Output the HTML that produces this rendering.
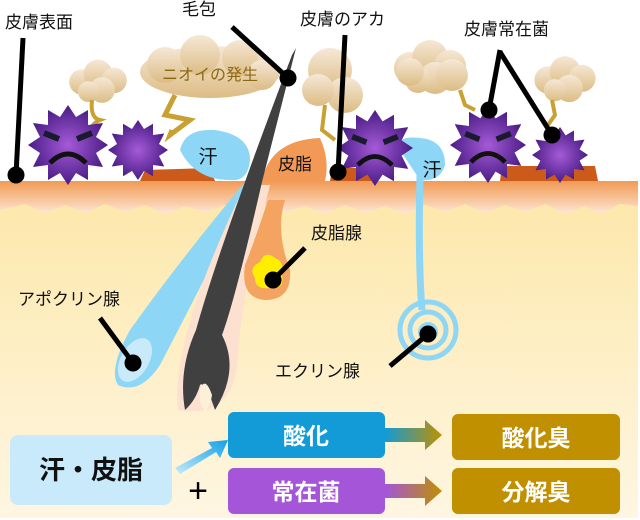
<!DOCTYPE html>
<html><head><meta charset="utf-8"><style>
html,body{margin:0;padding:0;background:#fff}
svg{display:block}
text{font-family:"Liberation Sans","Noto Sans CJK JP",sans-serif}
</style></head><body>
<svg width="640" height="520" viewBox="0 0 640 520" xmlns="http://www.w3.org/2000/svg">
<defs>
<linearGradient id="skin" x1="0" y1="0" x2="0" y2="1">
<stop offset="0" stop-color="#fde7a8"/><stop offset="1" stop-color="#fef6e2"/></linearGradient>
<linearGradient id="epi" x1="0" y1="0" x2="0" y2="1">
<stop offset="0" stop-color="#f29a55"/><stop offset="0.6" stop-color="#f8c8a0"/><stop offset="1" stop-color="#fde8dc"/></linearGradient>
<radialGradient id="bac" cx="0.5" cy="0.5" r="0.5">
<stop offset="0" stop-color="#a55ad8"/><stop offset="1" stop-color="#4a1d85"/></radialGradient>
<linearGradient id="cloud" x1="0" y1="0" x2="0" y2="1">
<stop offset="0" stop-color="#f6e8d6"/><stop offset="1" stop-color="#dcbc84"/></linearGradient>
<linearGradient id="ar1" x1="0" y1="0" x2="1" y2="0">
<stop offset="0" stop-color="#129bd6"/><stop offset="1" stop-color="#c09000"/></linearGradient>
<linearGradient id="ar2" x1="0" y1="0" x2="1" y2="0">
<stop offset="0" stop-color="#a455d8"/><stop offset="1" stop-color="#c09000"/></linearGradient>
<linearGradient id="ar3" x1="0" y1="1" x2="1" y2="0">
<stop offset="0" stop-color="#c8eafa"/><stop offset="1" stop-color="#10a0e8"/></linearGradient>
<g id="spk">
<polygon points="0,-40 8,-28 20,-35 20,-20 35,-22 28,-8 40,0 28,8 35,22 20,20 20,35 8,28 0,40 -8,28 -20,35 -20,20 -35,22 -28,8 -40,0 -28,-8 -35,-22 -20,-20 -20,-35 -8,-28" fill="url(#bac)"/>
</g>
<g id="face">
<use href="#spk"/>
<path d="M-24,-12 L-9,-6 M24,-12 L9,-6" stroke="#1b1b2e" stroke-width="6"/>
<path d="M-18,18 Q0,0 18,18" stroke="#111" stroke-width="5" fill="none"/>
</g>
<g id="cl">
<circle cx="-20" cy="0" r="16"/><circle cx="0" cy="-10" r="18"/><circle cx="20" cy="-2" r="16"/><circle cx="5" cy="10" r="16"/><circle cx="-12" cy="12" r="13"/>
</g>
</defs>
<!-- skin -->
<rect x="0" y="181" width="638" height="337" fill="url(#skin)"/>
<path d="M0,181 L638,181 L638,206 L620,204 L600,214 L585,206 L565,214 L545,204 L525,212 L505,205 L485,213 L465,204 L445,212 L425,205 L405,214 L385,206 L365,213 L345,205 L325,214 L305,206 L285,212 L265,205 L245,214 L225,205 L205,212 L185,206 L165,214 L145,205 L125,212 L105,204 L85,213 L65,205 L45,213 L25,204 L0,210Z" fill="url(#epi)"/>
<!-- sebum patches -->
<path d="M140,181 L145,170 L210,168 L215,181Z" fill="#cc5a1a"/>
<path d="M330,181 L332,168 L370,168 L375,181Z" fill="#cc5a1a"/>
<path d="M500,181 L502,166 L595,166 L598,181Z" fill="#cc5a1a"/>
<path d="M262,181 Q270,140 320,138 Q330,160 325,181Z" fill="#f29a55"/>
<!-- apocrine -->
<path d="M245,182 L252,182 Q220,250 160,365 Q140,395 118,385 Q108,370 130,330 Q180,260 245,182Z" fill="#8dd6f5"/>
<ellipse cx="135" cy="360" rx="14" ry="24" transform="rotate(30 135 360)" fill="#c8eafa"/>
<!-- follicle sheath -->
<path d="M245,185 L270,185 Q240,300 238,360 Q232,420 178,410 Q170,340 245,185Z" fill="#fde1d0"/>
<!-- sebaceous gland -->
<path d="M268,200 L285,200 Q275,230 290,270 Q292,300 265,300 Q240,298 245,265 Q255,240 268,200Z" fill="#f4a360"/>
<path d="M260,262 Q265,250 275,258 Q285,262 282,275 Q285,290 270,288 Q255,290 255,278 Q248,268 260,262Z" fill="#ffee00"/>
<!-- hair -->
<path d="M296,48 L262,182 Q235,300 222,335 Q240,370 215,410 Q205,380 200,385 Q196,400 185,410 Q178,370 196,330 Q218,250 292,55Z" fill="#404040"/>
<path d="M200,390 Q205,375 212,395 Q210,408 205,410 Q198,405 200,390Z" fill="#fdf0d8"/>
<!-- eccrine -->
<path d="M420,175 Q418,260 422,310" stroke="#8dd6f5" stroke-width="7" fill="none"/>
<path d="M400,150 Q395,135 420,138 Q445,140 445,165 Q440,182 420,180 Z" fill="#8dd6f5"/>
<circle cx="428" cy="330" r="28" stroke="#8dd6f5" stroke-width="5" fill="none"/>
<circle cx="428" cy="330" r="18" stroke="#8dd6f5" stroke-width="5" fill="none"/>
<circle cx="428" cy="332" r="8" stroke="#8dd6f5" stroke-width="4" fill="none"/>
<!-- sweat bubble left -->
<path d="M180,150 Q185,128 215,130 Q250,135 250,160 Q248,182 230,180 Q195,180 180,150Z" fill="#8dd6f5"/>
<!-- clouds -->
<g fill="url(#cloud)">
<use href="#cl" transform="translate(98,82) scale(0.8)"/>
<path d="M92,100 Q90,118 100,120 Q88,125 90,140" stroke="#c9a032" stroke-width="4" fill="none"/>
<ellipse cx="210" cy="72" rx="70" ry="26"/><circle cx="165" cy="65" r="18"/><circle cx="200" cy="55" r="20"/><circle cx="240" cy="58" r="18"/><circle cx="262" cy="75" r="15"/>
<path d="M175,95 L165,115 L190,120 L170,135 L172,130" stroke="#c9a032" stroke-width="5" fill="none"/>
<circle cx="330" cy="70" r="22"/><circle cx="345" cy="95" r="18"/><circle cx="318" cy="90" r="16"/>
<path d="M325,105 L322,130 L335,140" stroke="#c9a032" stroke-width="4" fill="none"/>
<use href="#cl" transform="translate(430,68) scale(1.0)"/>
<circle cx="410" cy="72" r="14"/><circle cx="452" cy="75" r="16"/>
<path d="M460,90 L465,105 L475,110" stroke="#c9a032" stroke-width="4" fill="none"/>
<use href="#cl" transform="translate(565,80) scale(0.85)"/>
<path d="M552,100 L555,115 L548,125" stroke="#c9a032" stroke-width="4" fill="none"/>
</g>
<text x="210" y="80" font-size="16" fill="#8b6914" text-anchor="middle">ニオイの発生</text>
<!-- bacteria -->
<use href="#face" transform="translate(68,145)"/>
<use href="#spk" transform="translate(138,150) scale(0.75)"/>
<use href="#face" transform="translate(375,148) scale(0.95)"/>
<use href="#face" transform="translate(488,145) scale(0.95)"/>
<use href="#spk" transform="translate(560,155) scale(0.7)"/>
<!-- labels -->
<text x="208" y="163" font-size="19" fill="#111" text-anchor="middle">汗</text>
<text x="295" y="170" font-size="17" fill="#111" text-anchor="middle">皮脂</text>
<text x="432" y="176" font-size="19" fill="#111" text-anchor="middle">汗</text>
<g font-size="17" fill="#111">
<text x="5" y="28">皮膚表面</text>
<text x="182" y="15">毛包</text>
<text x="300" y="25">皮膚のアカ</text>
<text x="464" y="35">皮膚常在菌</text>
<text x="311" y="239">皮脂腺</text>
<text x="18" y="305">アポクリン腺</text>
<text x="275" y="377">エクリン腺</text>
</g>
<g stroke="#000" stroke-width="5" fill="#000">
<line x1="23" y1="38" x2="16" y2="175"/><circle cx="16" cy="175" r="6"/>
<line x1="232" y1="27" x2="288" y2="78"/><circle cx="288" cy="78" r="6"/>
<line x1="345" y1="35" x2="338" y2="172"/><circle cx="338" cy="172" r="6"/>
<line x1="500" y1="50" x2="489" y2="110"/><circle cx="489" cy="110" r="6"/>
<line x1="500" y1="52" x2="552" y2="135"/><circle cx="552" cy="135" r="6"/>
<line x1="305" y1="248" x2="273" y2="280"/><circle cx="273" cy="280" r="6"/>
<line x1="100" y1="318" x2="133" y2="363"/><circle cx="133" cy="363" r="6"/>
<line x1="390" y1="366" x2="428" y2="334"/><circle cx="428" cy="334" r="6"/>
</g>
<!-- bottom flow -->
<rect x="10" y="435" width="162" height="70" rx="8" fill="#c8eafa"/>
<text x="91" y="479" font-size="26" font-weight="bold" fill="#111" text-anchor="middle">汗・皮脂</text>
<path d="M175,468 L212,448 L208,442 L228,440 L220,458 L216,452 L180,474Z" fill="url(#ar3)"/>
<text x="198" y="502" font-size="34" fill="#000" text-anchor="middle">+</text>
<rect x="228" y="412" width="157" height="46" rx="6" fill="#129bd6"/>
<text x="306" y="444" font-size="23" font-weight="bold" fill="#fff" text-anchor="middle">酸化</text>
<rect x="228" y="468" width="157" height="46" rx="6" fill="#a455d8"/>
<text x="306" y="500" font-size="23" font-weight="bold" fill="#fff" text-anchor="middle">常在菌</text>
<path d="M385,428 L425,428 L425,420 L442,435 L425,450 L425,442 L385,442Z" fill="url(#ar1)"/>
<path d="M385,484 L425,484 L425,476 L442,491 L425,506 L425,498 L385,498Z" fill="url(#ar2)"/>
<rect x="452" y="414" width="168" height="46" rx="6" fill="#c09000"/>
<text x="536" y="446" font-size="23" font-weight="bold" fill="#fff" text-anchor="middle">酸化臭</text>
<rect x="452" y="468" width="168" height="46" rx="6" fill="#c09000"/>
<text x="536" y="500" font-size="23" font-weight="bold" fill="#fff" text-anchor="middle">分解臭</text>
</svg>
</body></html>
